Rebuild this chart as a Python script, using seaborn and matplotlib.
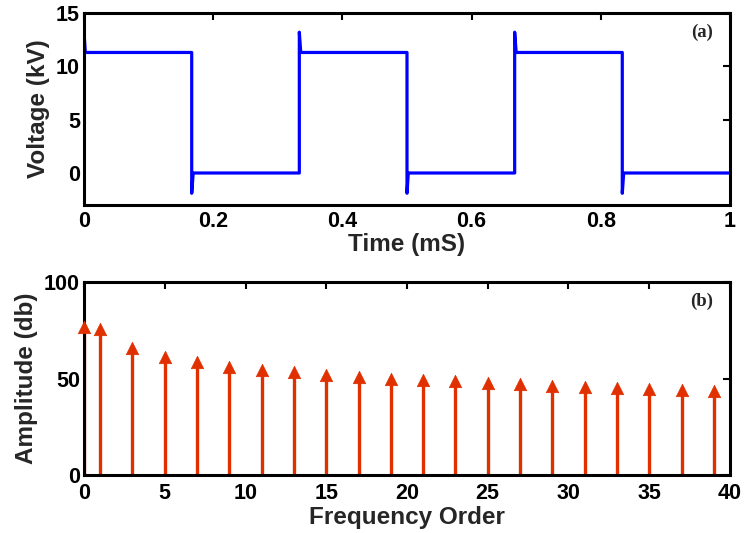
import matplotlib
matplotlib.use("Agg")
import matplotlib.pyplot as plt
import seaborn as sns
import pandas as pd

# ---- data ----
time_ms = [0.0, 0.0, 0.002, 0.1667, 0.1667, 0.169, 0.3333, 0.3333, 0.3355,
           0.5, 0.5, 0.502, 0.6667, 0.6667, 0.669, 0.8333, 0.8333, 0.8355, 1.0]
voltage_kv = [0.0, 13.2, 11.3, 11.3, -1.9, 0.0, 0.0, 13.2, 11.3,
              11.3, -1.9, 0.0, 0.0, 13.2, 11.3, 11.3, -1.9, 0.0, 0.0]

orders = [0, 1, 3, 5, 7, 9, 11, 13, 15, 17, 19, 21, 23, 25, 27, 29, 31, 33, 35, 37, 39]
amplitude_db = [76.5, 75.6, 65.8, 60.9, 58.3, 56.2, 54.4, 53.4, 51.8, 50.8, 49.7,
                49.2, 48.5, 47.8, 47.0, 46.3, 45.8, 45.1, 44.4, 44.0, 43.7]

x_ticks_a = [0, 0.2, 0.4, 0.6, 0.8, 1]
x_ticklabels_a = ["0", "0.2", "0.4", "0.6", "0.8", "1"]
y_ticks_a = [0, 5, 10, 15]
x_ticks_b = [0, 5, 10, 15, 20, 25, 30, 35, 40]
y_ticks_b = [0, 50, 100]

sns.set_style("white")
plt.rcParams['font.family'] = ['Liberation Sans', 'DejaVu Sans']
plt.rcParams['font.weight'] = 'bold'

BLUE = "#0000FF"
RED = "#E03000"
TICK_FS = 15.5
LABEL_FS = 17.5

fig = plt.figure(figsize=(7.45, 5.33), dpi=100)
ax1 = fig.add_axes([0.1128, 0.6154, 0.867, 0.3602])
ax2 = fig.add_axes([0.1128, 0.1088, 0.867, 0.3621])

df_a = pd.DataFrame({"t": time_ms, "v": voltage_kv})
sns.lineplot(data=df_a, x="t", y="v", ax=ax1, estimator=None, sort=False,
             color=BLUE, linewidth=2.3)
ax1.set_xlim(0, 1)
ax1.set_ylim(-3, 15)
ax1.set_xticks(x_ticks_a)
ax1.set_xticklabels(x_ticklabels_a)
ax1.set_yticks(y_ticks_a)
ax1.set_xlabel("Time (mS)", fontsize=LABEL_FS, fontweight='bold', labelpad=1)
ax1.set_ylabel("Voltage (kV)", fontsize=LABEL_FS, fontweight='bold', labelpad=4)
ax1.text(0.974, 0.945, "(a)", transform=ax1.transAxes, ha='right', va='top',
         fontsize=13.5, fontweight='bold', family=['Liberation Serif'])

df_b = pd.DataFrame({"order": orders, "amp": amplitude_db})
ax2.vlines(df_b["order"], 0, df_b["amp"], color=RED, linewidth=2.4, zorder=2)
sns.scatterplot(data=df_b, x="order", y="amp", ax=ax2, marker="^", s=80,
                color=RED, edgecolor=RED, linewidth=0.5, zorder=3, clip_on=False)
ax2.set_xlim(0, 40)
ax2.set_ylim(0, 100)
ax2.set_xticks(x_ticks_b)
ax2.set_yticks(y_ticks_b)
ax2.set_xlabel("Frequency Order", fontsize=LABEL_FS, fontweight='bold', labelpad=1)
ax2.set_ylabel("Amplitude (db)", fontsize=LABEL_FS, fontweight='bold', labelpad=4)
ax2.text(0.974, 0.945, "(b)", transform=ax2.transAxes, ha='right', va='top',
         fontsize=13.5, fontweight='bold', family=['Liberation Serif'])

for ax, pad in ((ax1, 4), (ax2, 6)):
    for s in ax.spines.values():
        s.set_visible(True)
        s.set_color("black")
        s.set_linewidth(2.2)
    ax.tick_params(direction='in', length=5, width=1.5, top=True, right=True,
                   labelsize=TICK_FS, colors='black')
    ax.tick_params(axis='x', pad=pad)
    ax.tick_params(axis='y', pad=3)
    for lab in ax.get_xticklabels() + ax.get_yticklabels():
        lab.set_fontweight('bold')

fig.savefig("out.png", dpi=100)
